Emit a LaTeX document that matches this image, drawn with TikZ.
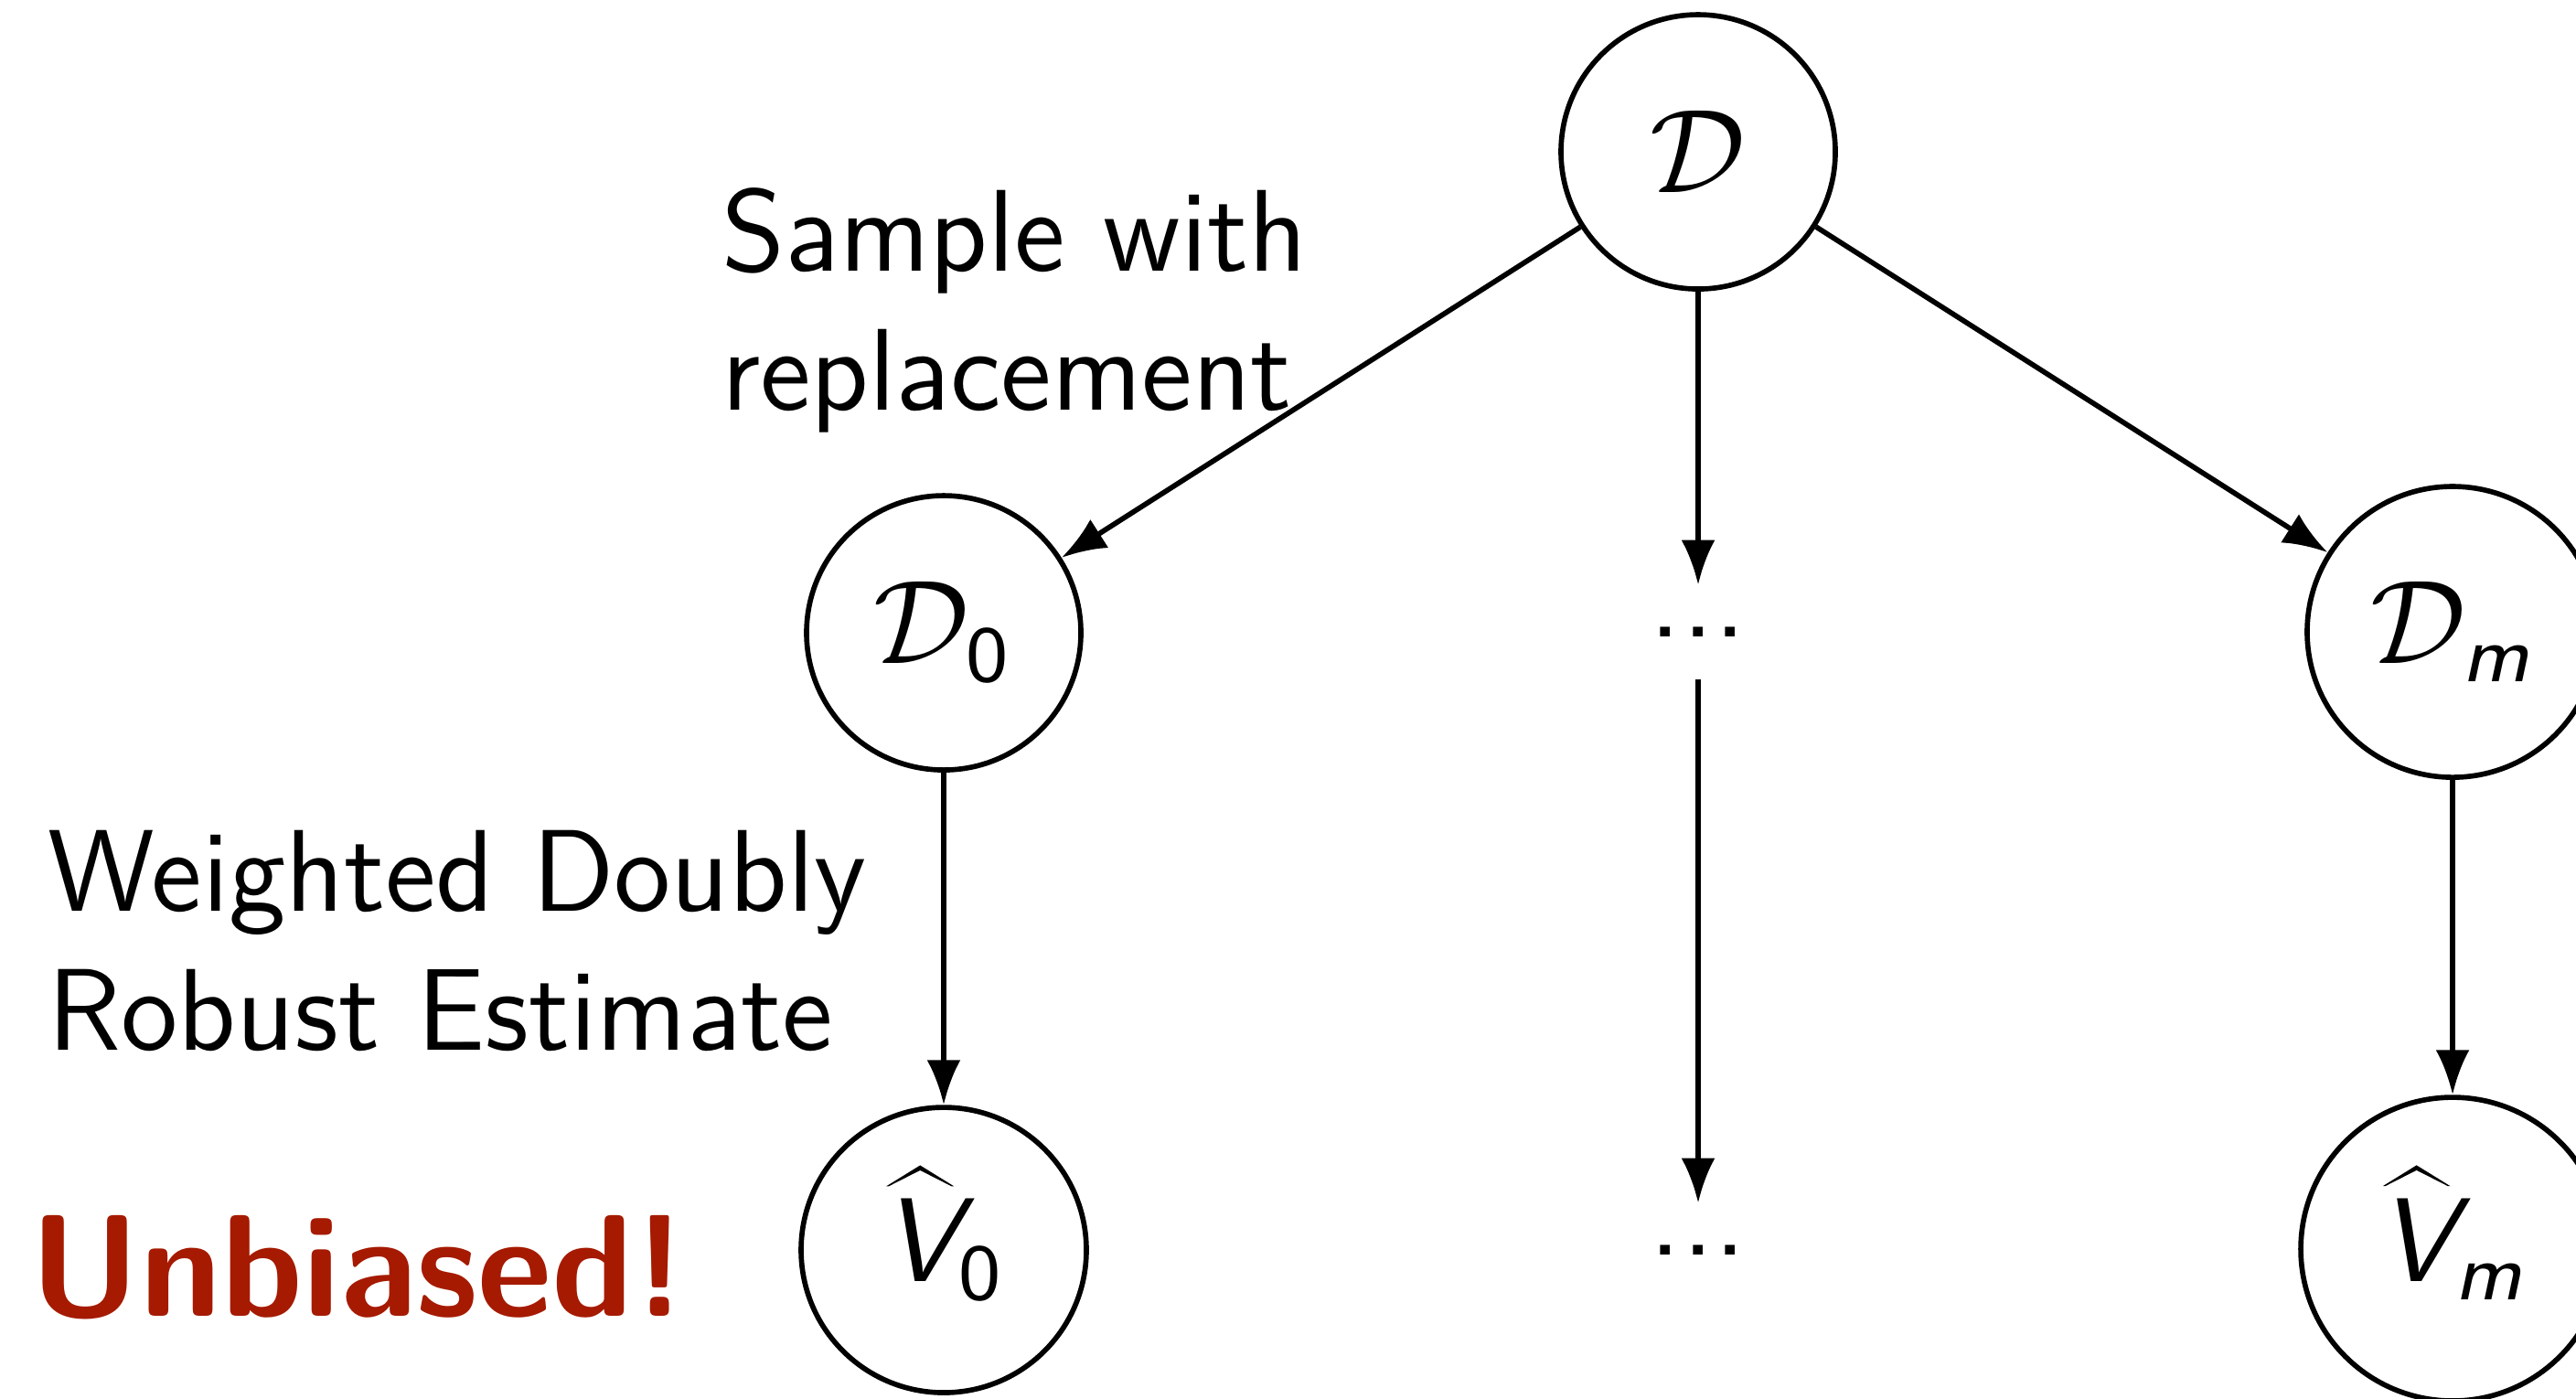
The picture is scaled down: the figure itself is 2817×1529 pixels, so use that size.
\documentclass[tikz,border=0pt]{standalone}
\usepackage{amsmath}
\usetikzlibrary{arrows.meta}
\definecolor{biasred}{RGB}{165,26,0}
% sans-serif math letters and digits
\newcommand{\sfit}[1]{\text{\sffamily\itshape #1}}
\newcommand{\sfup}[1]{\text{\sffamily #1}}
% sans italic letter under a wide, tapered hat
\newcommand{\sfhat}[1]{\text{\ooalign{\sffamily\itshape #1\cr
  \hidewidth\tikz[reset cm,baseline=0pt]
    \fill (0pt,9.6pt) -- (3.4pt,11.7pt) -- (6.8pt,9.6pt) -- (6.55pt,9.6pt)
      -- (3.4pt,11.2pt) -- (0.25pt,9.6pt) -- cycle;%
  \hidewidth\cr}}}
\begin{document}
\begin{tikzpicture}[x=0.092pt,y=-0.092pt,
  every node/.style={font=\sffamily\fontsize{12}{14}\selectfont},
  state/.style={draw, circle, line width=0.52pt, inner sep=0pt, minimum size=27.6pt},
  gap/.style={inner xsep=1pt, inner ysep=4.05pt},
  link/.style={line width=0.52pt, -{Latex[length=4.5pt,width=3.4pt]}},
  note/.style={anchor=base west, align=left, inner sep=0pt,
    font=\sffamily\fontsize{11.7}{13.9}\selectfont}]
\useasboundingbox (0,0) rectangle (2817,1529);

% data set and bootstrap resamples
\node[state] (D)  at (1857,166) {$\mathcal{D}$};
\node[state] (D0) at (1032,692) {$\mathcal{D}_{\sfup{0}}$};
\node[gap]   (Dd) at (1857,691) {...};
\node[state, minimum size=29.26pt] (Dm) at (2682,691) {$\mathcal{D}_{\sfit{m}}$};

% estimates
\node[state, minimum size=28.7pt] (V0) at (1032,1367) {$\sfhat{V}_{\sfup{0}}$};
\node[gap]   (Vd) at (1857,1367) {...};
\node[state, minimum size=30.54pt] (Vm) at (2682,1366) {$\sfhat{V}_{\sfit{m}}$};

% connectors
\draw[link] (D) -- (D0);
\draw[link] (D) -- (Dd);
\draw[link] (D) -- (Dm);
\draw[link] (D0) -- (V0);
\draw[link] (Dd) -- (Vd);
\draw[link] (Dm) -- (Vm);

% labels (anchored on the baseline of their last line)
\node[note] (lsample) at (787,448) {Sample with\\replacement};
\node[note] (lwdr) at (50,1148) {Weighted Doubly\\Robust Estimate};
\node[note, text=biasred, font=\sffamily\bfseries\fontsize{14.6}{17}\selectfont] (lunb) at (30,1439) {Unbiased!};
\end{tikzpicture}
\end{document}
